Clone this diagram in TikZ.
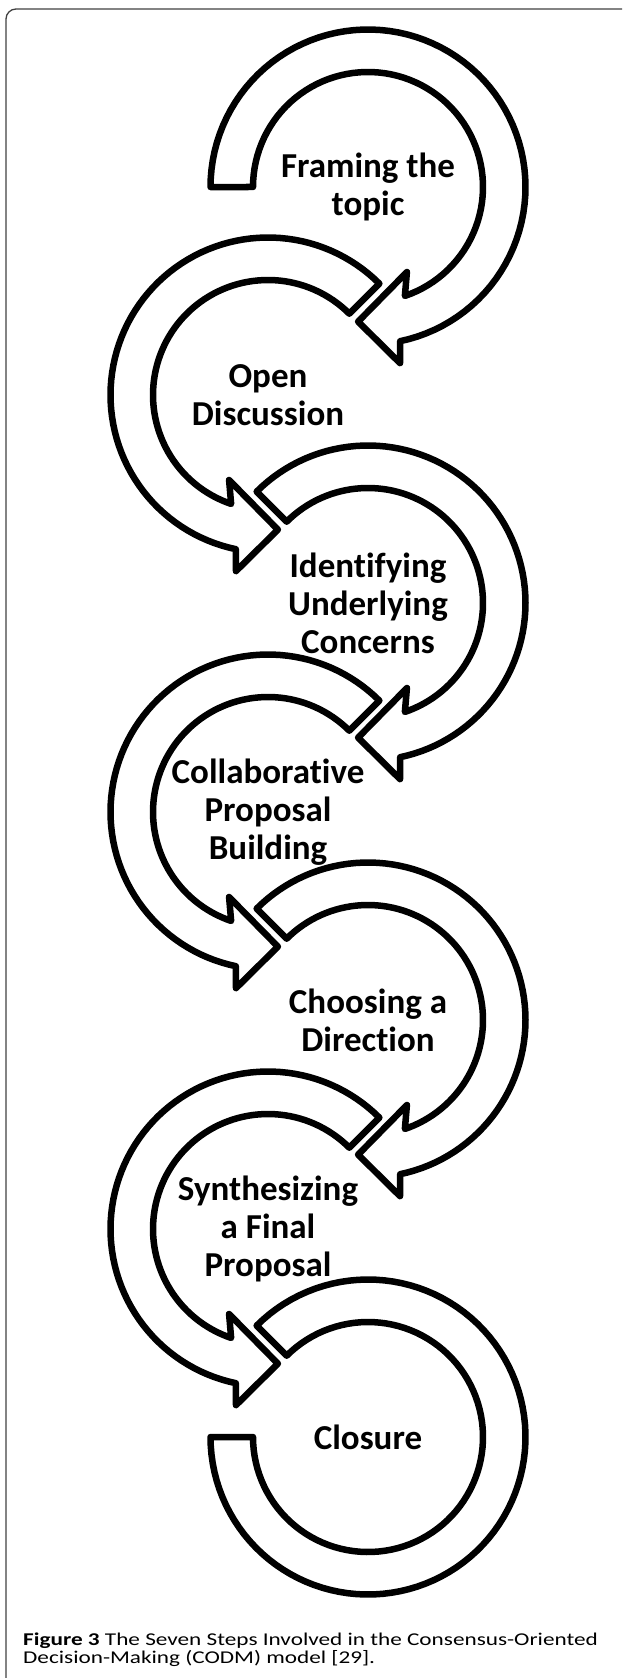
\documentclass[tikz,border=0pt]{standalone}
\usepackage{fontspec}
\setmainfont{Carlito}[Ligatures=NoCommon]
\newfontfamily\capfont{Carlito}[FakeStretch=1.29, Ligatures=NoCommon]
\usetikzlibrary{shadows}

\begin{document}
\begin{tikzpicture}[x=1pt, y=-1pt,
    ring/.style={draw=black, line width=6.5pt, line join=round, fill=white,
        drop shadow={shadow xshift=1.5pt, shadow yshift=-1.5pt, opacity=0.25}},
    steplabel/.style={align=center, inner sep=0pt, font=\bfseries\fontsize{35}{38}\selectfont},
    figcaption/.style={anchor=base west, inner sep=0pt, font=\capfont\fontsize{18}{18}\selectfont},
    boxframe/.style={draw=black!75, line width=1.3pt, rounded corners=10pt}]
    \useasboundingbox (0,0) rectangle (622,1678);
    \draw[boxframe] (6,1678) -- (6,9) -- (622,9);

    \foreach \cx/\cy/\s/\a in {368/187/1/180, 268/395/-1/225, 368/603/1/225,
                               268/812/-1/225, 368/1020/1/225, 268/1229/-1/225}
        \draw[ring] plot[domain=\a:438.2, samples=80] ({\cx+\s*157.5*cos(\x)}, {\cy+157.5*sin(\x)})
            -- ({\cx+\s*179*cos(439.7)}, {\cy+179*sin(439.7)})
            -- ({\cx+\s*135*cos(454.2)}, {\cy+135*sin(454.2)})
            -- ({\cx+\s*93.5*cos(425.4)}, {\cy+93.5*sin(425.4)})
            -- plot[domain=431.3:\a, samples=80] ({\cx+\s*115*cos(\x)}, {\cy+115*sin(\x)})
            -- cycle;
    \draw[ring] plot[domain=225:540, samples=100] ({368+157.5*cos(\x)}, {1437+157.5*sin(\x)})
        -- plot[domain=540:225, samples=100] ({368+115*cos(\x)}, {1437+115*sin(\x)})
        -- cycle;

    \node[steplabel] (framing) at (368,187) {Framing the\\topic};
    \node[steplabel] (open) at (268,395) {Open\\Discussion};
    \node[steplabel] (concerns) at (368,603) {Identifying\\Underlying\\Concerns};
    \node[steplabel] (proposal) at (268,812) {Collaborative\\Proposal\\Building};
    \node[steplabel] (direction) at (368,1020) {Choosing a\\Direction};
    \node[steplabel] (synthesis) at (268,1229) {Synthesizing\\a Final\\Proposal};
    \node[steplabel] (closure) at (368,1437) {Closure};

    \node[figcaption] (cap1) at (23,1645) {\textbf{Figure 3} The Seven Steps Involved in the Consensus-Oriented};
    \node[figcaption] (cap2) at (23,1663) {Decision-Making (CODM) model [29].};
\end{tikzpicture}
\end{document}
